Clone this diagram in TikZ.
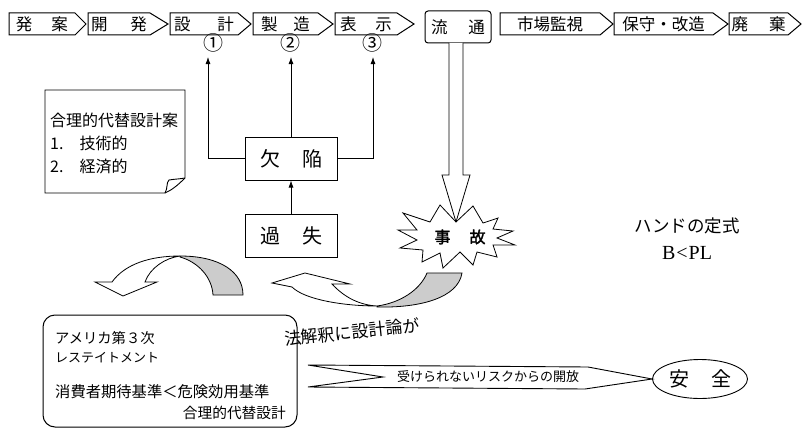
\documentclass[tikz,border=0pt]{standalone}
\usepackage{fontspec}
\setmainfont{Noto Sans CJK JP}
\newfontfamily\serifrm{Liberation Serif}
\usetikzlibrary{arrows.meta,calc,shapes.geometric}
\newcommand{\fsz}[1]{\fontsize{#1}{#1}\selectfont}
\newcommand{\chevbox}[5]{%
  \draw[box] (#1,13) -- (#2,13) -- (#3,24) -- (#2,35) -- (#1,35) -- cycle;
  \node[toplbl] (#4) at ({(#1+#2)/2},24) {#5};}
\tikzset{
  box/.style={draw, line width=1pt, line join=miter},
  toplbl/.style={inner sep=0pt, font=\fsz{16.5}},
  conn/.style={line width=0.8pt, -{Latex[length=7pt,width=5pt]}},
  curvearr/.style={draw, line width=0.8pt, line join=miter},
  shade/.style={fill=gray!40},
  circnum/.style={font=\fsz{20}, inner sep=0pt},
}
\begin{document}
\begin{tikzpicture}[x=1pt,y=-1pt]
\useasboundingbox (0,0) rectangle (802,428);

% top process row
\chevbox{9}{75}{86}{hatsuan}{発\hspace{19pt}案}
\chevbox{88}{150}{168}{kaihatsu}{開\hspace{23pt}発}
\chevbox{170}{238}{251}{sekkei}{設\hspace{27pt}計}
\chevbox{253}{318}{333}{seizou}{製\hspace{16pt}造}
\chevbox{335}{397}{414}{hyouji}{表\hspace{19pt}示}
\node[draw, rounded corners=3pt, line width=1pt, minimum width=66pt, minimum height=32pt, font=\fsz{16.5}] (ryutsu) at (458,27) {流\hspace{21pt}通};
\chevbox{500}{600}{613}{shijou}{市場監視}
\chevbox{614}{713}{728}{hoshu}{保守・改造}
\chevbox{729}{788}{801}{haiki}{廃\hspace{21pt}棄}

% circled numbers
\node[circnum] (n1) at (213,43) {①};
\node[circnum] (n2) at (290,43) {②};
\node[circnum] (n3) at (372,43) {③};
\coordinate (t1) at (208,57);
\coordinate (t2) at (291,57);
\coordinate (t3) at (373,57);

% defect and negligence
\node[draw, line width=1pt, minimum width=92pt, minimum height=43pt, font=\fsz{20}] (kekkan) at (291,158.5) {欠\hspace{22pt}陥};
\node[draw, line width=1pt, minimum width=92pt, minimum height=43pt, font=\fsz{20}] (kashitsu) at (291,235.5) {過\hspace{22pt}失};
\draw[conn] (kekkan.west) -| (t1);
\draw[conn] (kekkan.north) -- (t2);
\draw[conn] (kekkan.east) -| (t3);
\draw[conn] (kashitsu.north) -- (kekkan.south);

% note card
\draw[line width=0.9pt, fill=white] (45,90) -- (185,90) -- (185,178) .. controls (178,185) and (172,190) .. (165,193) -- (45,193) -- cycle;
\draw[line width=0.9pt] (165,193) .. controls (168,188) and (166,183) .. (169,180) .. controls (175,179) and (180,179) .. (185,178);
\node[anchor=west, font=\fsz{16}, inner sep=0pt] (card1) at (50,120) {合理的代替設計案};
\node[anchor=west, font=\fsz{16}, inner sep=0pt] (card2) at (50,143) {1.\hspace{16pt}技術的};
\node[anchor=west, font=\fsz{16}, inner sep=0pt] (card3) at (50,166) {2.\hspace{16pt}経済的};

% big hollow arrow from distribution to accident
\coordinate (bigtip) at (456,222);
\draw[line width=0.8pt, fill=white, line join=miter] (449,43) -- (449,175) -- (442,175) -- (bigtip) -- (470,175) -- (463,175) -- (463,43);

% accident starburst
\draw[line width=0.8pt, fill=white, line join=miter] (456,222) -- (473,206) -- (483,223) -- (498,218) -- (493,229) -- (513,231) -- (497,238) -- (515,245) -- (493,245) -- (497,257) -- (477,252) -- (473,265) -- (460,252) -- (443,268) -- (440,253) -- (422,262) -- (423,250) -- (400,248) -- (417,240) -- (398,230) -- (417,230) -- (403,213) -- (430,222) -- (440,205) -- cycle;
\node[font=\fsz{16}\addfontfeature{FakeBold=2}, inner sep=0pt] (jiko) at (460,237) {事\hspace{19pt}故};

% Hand formula
\node[font=\fsz{17.5}, inner sep=0pt] (hand) at (687,226) {ハンドの定式};
\node[font=\serifrm\fsz{20}, inner sep=0pt] (bpl) at (687,253) {B\kern1pt<\kern1ptPL};

% curved arrow 1 (left)
\draw[curvearr, fill=white] (112,282) .. controls (125,264) and (150,256) .. (180,256) .. controls (165,258) and (150,268) .. (145,282) -- (157,282) -- (123,296) -- (95,282) -- cycle;
\draw[curvearr, shade] (180,256) .. controls (220,256) and (243,272) .. (243,295) -- (213,295) .. controls (212,277) and (198,262) .. (180,257) -- cycle;

% curved arrow 2 (right)
\draw[curvearr, fill=white] (272,283) -- (305,273) -- (350,284) -- (332,284) .. controls (345,298) and (360,305) .. (377,306) .. controls (345,306) and (305,300) .. (292,287) -- cycle;
\draw[curvearr, shade] (377,306) .. controls (400,303) and (420,290) .. (427,273) -- (462,273) .. controls (458,298) and (420,308) .. (377,307) -- cycle;

% law interpretation text
\node[rotate=6, font=\fsz{17}, inner sep=0pt] (houkai) at (352,332) {法解釈に設計論が};

% Restatement box
\node[draw, rounded corners=12pt, line width=1pt, minimum width=254pt, minimum height=112pt] (amerika) at (170,371) {};
\node[anchor=west, font=\fsz{14.3}, inner sep=0pt] (am1) at (55,338) {アメリカ第３次};
\node[anchor=west, font=\fsz{13}, inner sep=0pt] (am2) at (55,358) {レステイトメント};
\node[anchor=west, font=\fsz{15.3}, inner sep=0pt] (am3) at (55,392) {消費者期待基準＜危険効用基準};
\node[anchor=east, font=\fsz{14.7}, inner sep=0pt] (am4) at (286,413) {合理的代替設計};

% safety
\node[draw, ellipse, minimum width=95pt, minimum height=39pt, line width=0.9pt, font=\fsz{20}, inner sep=0pt] (anzen) at (700,379) {安\hspace{22pt}全};
\draw[line width=0.9pt, fill=white, line join=miter] (308,365) -- (588,367) -- (anzen.west) -- (585,389) -- (308,387) -- (383,377) -- cycle;
\node[anchor=west, font=\fsz{13}, inner sep=0pt] (kaihou) at (397,377) {受けられないリスクからの開放};
\end{tikzpicture}
\end{document}
